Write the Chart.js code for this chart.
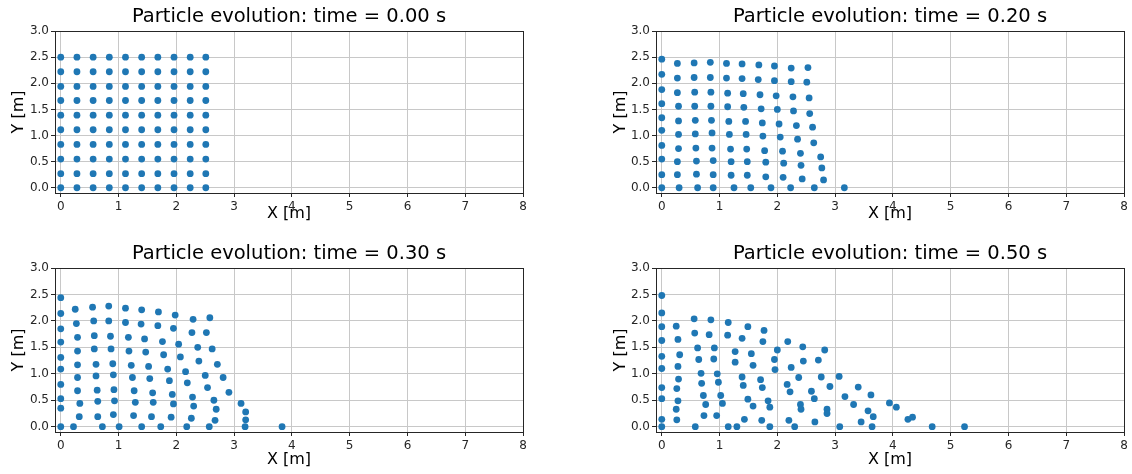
<!DOCTYPE html>
<html>
<head>
<meta charset="utf-8">
<script src="https://cdn.jsdelivr.net/npm/chart.js@4.4.1/dist/chart.umd.min.js"></script>
<style>
  body { margin: 0; background: #fff; }
  canvas { position: absolute; }
</style>
</head>
<body>
<canvas id="p0" width="566" height="237" style="left:0px;top:0px"></canvas>
<canvas id="p1" width="566" height="237" style="left:566px;top:0px"></canvas>
<canvas id="p2" width="566" height="237" style="left:0px;top:237px"></canvas>
<canvas id="p3" width="566" height="237" style="left:566px;top:237px"></canvas>
<script>
// tick labels and titles
const xTicks = [0, 1, 2, 3, 4, 5, 6, 7, 8];
const yTicks = [0, 0.5, 1.0, 1.5, 2.0, 2.5, 3.0];
const times = ['0.00', '0.20', '0.30', '0.50'];

// t = 0.00 s : regular block of particles (columns x rows)
const gridX = [0, 0.28, 0.56, 0.84, 1.12, 1.40, 1.68, 1.96, 2.24, 2.51];
const gridY = [0, 0.27, 0.55, 0.83, 1.11, 1.39, 1.67, 1.94, 2.22, 2.50];

// t = 0.20 s
const t020 = [
  [0,2.46],[0.27,2.38],[0.56,2.39],[0.84,2.40],[1.12,2.38],[1.39,2.37],[1.68,2.35],[1.95,2.33],[2.24,2.29],[2.53,2.30],
  [0,2.17],[0.27,2.10],[0.56,2.11],[0.84,2.11],[1.12,2.10],[1.39,2.09],[1.67,2.07],[1.95,2.05],[2.24,2.03],[2.51,2.02],
  [0,1.88],[0.27,1.82],[0.57,1.83],[0.85,1.83],[1.14,1.81],[1.41,1.80],[1.70,1.78],[1.98,1.76],[2.27,1.74],[2.55,1.72],
  [0,1.61],[0.29,1.56],[0.57,1.56],[0.85,1.56],[1.14,1.55],[1.42,1.54],[1.72,1.51],[2.00,1.50],[2.28,1.47],[2.56,1.42],
  [0,1.34],[0.29,1.28],[0.58,1.29],[0.86,1.29],[1.16,1.27],[1.45,1.27],[1.74,1.24],[2.03,1.22],[2.33,1.19],[2.61,1.16],
  [0,1.10],[0.29,1.02],[0.58,1.03],[0.87,1.05],[1.17,1.02],[1.46,1.02],[1.75,0.99],[2.05,0.97],[2.35,0.93],[2.63,0.86],
  [0,0.81],[0.29,0.75],[0.59,0.76],[0.87,0.76],[1.19,0.74],[1.47,0.74],[1.78,0.71],[2.09,0.70],[2.40,0.66],[2.75,0.59],
  [0,0.55],[0.27,0.50],[0.60,0.51],[0.89,0.52],[1.20,0.50],[1.48,0.50],[1.80,0.49],[2.11,0.47],[2.41,0.43],[2.77,0.38],
  [0,0.25],[0.27,0.25],[0.60,0.26],[0.89,0.25],[1.20,0.24],[1.48,0.24],[1.80,0.21],[2.10,0.20],[2.43,0.17],[2.80,0.15],
  [0,0],[0.30,0],[0.62,0],[0.89,0],[1.25,0],[1.54,0],[1.89,0],[2.23,0],[2.64,0],[3.16,0]
];

// t = 0.30 s
const t030 = [
  [0,2.44],[0,2.14],[0,1.85],[0,1.60],[0,1.31],[0,1.09],[0,0.80],[0,0.53],[0,0.35],[0,0],
  [0.25,2.22],[0.27,1.95],[0.29,1.69],[0.29,1.43],[0.29,1.17],[0.29,0.93],[0.29,0.68],[0.33,0.44],[0.32,0.19],[0.22,0],
  [0.55,2.26],[0.57,2.00],[0.58,1.72],[0.58,1.47],[0.61,1.18],[0.61,0.96],[0.63,0.69],[0.64,0.48],[0.64,0.19],[0.72,0],
  [0.83,2.28],[0.83,2.00],[0.86,1.71],[0.87,1.47],[0.90,1.19],[0.91,0.98],[0.92,0.70],[0.93,0.49],[0.91,0.23],[1.01,0],
  [1.12,2.24],[1.12,1.97],[1.17,1.69],[1.18,1.43],[1.22,1.16],[1.24,0.93],[1.27,0.68],[1.29,0.46],[1.26,0.21],[1.40,0],
  [1.40,2.21],[1.39,1.94],[1.45,1.66],[1.47,1.41],[1.52,1.14],[1.54,0.91],[1.59,0.64],[1.60,0.46],[1.57,0.19],
  [1.69,2.17],[1.68,1.91],[1.76,1.61],[1.78,1.36],[1.85,1.09],[1.88,0.87],[1.93,0.61],[1.95,0.43],[1.91,0.18],[1.73,0],
  [1.98,2.11],[1.95,1.86],[2.04,1.56],[2.07,1.32],[2.16,1.04],[2.19,0.83],[2.28,0.56],[2.30,0.39],[2.26,0.16],[2.18,0],
  [2.29,2.03],[2.27,1.78],[2.37,1.50],[2.39,1.24],[2.50,0.97],[2.54,0.74],[2.65,0.50],[2.69,0.33],[2.67,0.12],[2.57,0],
  [2.58,2.06],[2.52,1.78],[2.62,1.47],[2.71,1.18],[2.81,0.93],[2.91,0.65],[3.12,0.44],[3.20,0.28],[3.20,0.13],[3.19,0],
  [3.83,0]
];

// t = 0.50 s
const t050 = [
  [0,2.48],[0,2.15],[0,1.89],[0,1.63],[0,1.33],[0,1.10],[0,0.74],[0,0.53],[0,0.14],[0,0],
  [0.25,1.90],[0.28,1.65],[0.31,1.36],[0.28,1.14],[0.29,0.90],[0.26,0.72],[0.28,0.49],[0.25,0.33],[0.26,0.13],
  [0.56,2.04],[0.57,1.77],[0.62,1.49],[0.64,1.27],[0.68,1.01],[0.69,0.82],[0.72,0.59],[0.76,0.42],[0.73,0.21],[0.58,0],
  [0.85,2.02],[0.82,1.74],[0.91,1.49],[0.90,1.28],[0.96,1.00],[0.98,0.84],[1.02,0.59],[1.05,0.44],[0.95,0.21],
  [1.15,1.97],[1.14,1.73],[1.27,1.42],[1.27,1.22],[1.39,0.94],[1.41,0.78],[1.49,0.52],[1.43,0.14],[1.15,0],[1.30,0],
  [1.49,1.89],[1.39,1.67],[1.55,1.38],[1.58,1.16],[1.58,0.39],
  [1.77,1.82],[1.75,1.61],[1.71,0.89],[1.74,0.74],[1.84,0.49],[1.87,0.37],[1.73,0.12],[1.87,0],
  [2.00,1.45],[1.95,1.27],[1.96,1.08],
  [2.18,1.61],[2.24,1.12],[2.17,0.80],[2.22,0.66],[2.37,0.93],[2.20,0.12],[2.30,0],
  [2.44,1.51],[2.45,1.24],[2.40,0.42],[2.41,0.33],
  [2.59,0.67],[2.64,0.53],[2.65,0.09],[2.71,1.26],[2.82,1.45],[2.76,0.94],[2.91,0.76],[2.86,0.33],[2.86,0.25],
  [3.07,0.95],[3.17,0.57],[3.32,0.42],[3.40,0.75],[3.45,0.09],[3.08,0],
  [3.57,0.30],[3.62,0.60],[3.66,0.19],[3.64,0],
  [3.94,0.45],[4.06,0.37],[4.26,0.14],[4.34,0.18],[4.68,0],[5.24,0]
];

var t000 = [];
gridY.forEach(function(y) {
  gridX.forEach(function(x) { t000.push([x, y]); });
});

// box around the axes, like matplotlib spines
var framePlugin = {
  id: 'frame',
  afterDraw: function(chart) {
    var ctx = chart.ctx, a = chart.chartArea;
    ctx.save();
    ctx.strokeStyle = '#262626';
    ctx.lineWidth = 1;
    ctx.strokeRect(Math.round(a.left) + 0.5, Math.round(a.top) + 0.5,
                   Math.round(a.right - a.left), Math.round(a.bottom - a.top));
    ctx.restore();
  }
};

var font = "'DejaVu Sans', sans-serif";

function makePanel(id, pts, time, g) {
  var ctx = document.getElementById(id).getContext('2d');
  return new Chart(ctx, {
    type: 'scatter',
    data: {
      datasets: [{
        data: pts.map(function(p) { return {x: p[0], y: p[1]}; }),
        backgroundColor: '#1f77b4',
        borderColor: '#1f77b4',
        borderWidth: 0,
        pointRadius: 3.4,
        pointHoverRadius: 3.4
      }]
    },
    options: {
      responsive: false,
      animation: false,
      layout: {
        padding: {left: g.padL, right: 566 - g.right, top: 3, bottom: 0}
      },
      plugins: {
        legend: { display: false },
        tooltip: { enabled: false },
        title: {
          display: true,
          fullSize: false,
          text: 'Particle evolution: time = ' + time + ' s',
          color: '#000',
          font: { family: font, size: 19.5, weight: 'normal', lineHeight: 1.2 },
          padding: { top: 2.5, bottom: g.top - 3 - 2.5 - 23.4 }
        }
      },
      scales: {
        x: {
          type: 'linear',
          min: -0.1,
          max: 8,
          afterBuildTicks: function(s) { s.ticks = xTicks.map(function(v) { return {value: v}; }); },
          afterFit: function(s) { s.height = 237 - g.bottom; },
          grid: { color: '#c8c8c8', lineWidth: 1, drawTicks: true, tickLength: 4, tickColor: '#262626' },
          border: { display: false },
          ticks: {
            color: '#262626', padding: 3, maxRotation: 0, autoSkip: false,
            font: { family: font, size: 12 },
            callback: function(v) { return String(v); }
          },
          title: {
            display: true, text: 'X [m]', color: '#000',
            font: { family: font, size: 16, lineHeight: 1.2 },
            padding: { top: 0, bottom: g.xTitlePad }
          }
        },
        y: {
          type: 'linear',
          min: -0.1,
          max: 3,
          afterBuildTicks: function(s) { s.ticks = yTicks.map(function(v) { return {value: v}; }); },
          afterFit: function(s) { s.width = g.left - g.padL; },
          grid: { color: '#c8c8c8', lineWidth: 1, drawTicks: true, tickLength: 4, tickColor: '#262626' },
          border: { display: false },
          ticks: {
            color: '#262626', padding: 2, autoSkip: false,
            font: { family: font, size: 12 },
            callback: function(v) { return v.toFixed(1); }
          },
          title: {
            display: true, text: 'Y [m]', color: '#000',
            font: { family: font, size: 16, lineHeight: 1.2 },
            padding: { top: 9, bottom: 0 }
          }
        }
      }
    },
    plugins: [framePlugin]
  });
}

makePanel('p0', t000, times[0], {left: 55, right: 523, top: 31, bottom: 193, padL: 0, xTitlePad: 13.4});
makePanel('p1', t020, times[1], {left: 90, right: 558, top: 31, bottom: 193, padL: 36, xTitlePad: 13.4});
makePanel('p2', t030, times[2], {left: 55, right: 523, top: 31, bottom: 195, padL: 0, xTitlePad: 4.4});
makePanel('p3', t050, times[3], {left: 90, right: 558, top: 31, bottom: 195, padL: 36, xTitlePad: 4.4});
</script>
</body>
</html>
